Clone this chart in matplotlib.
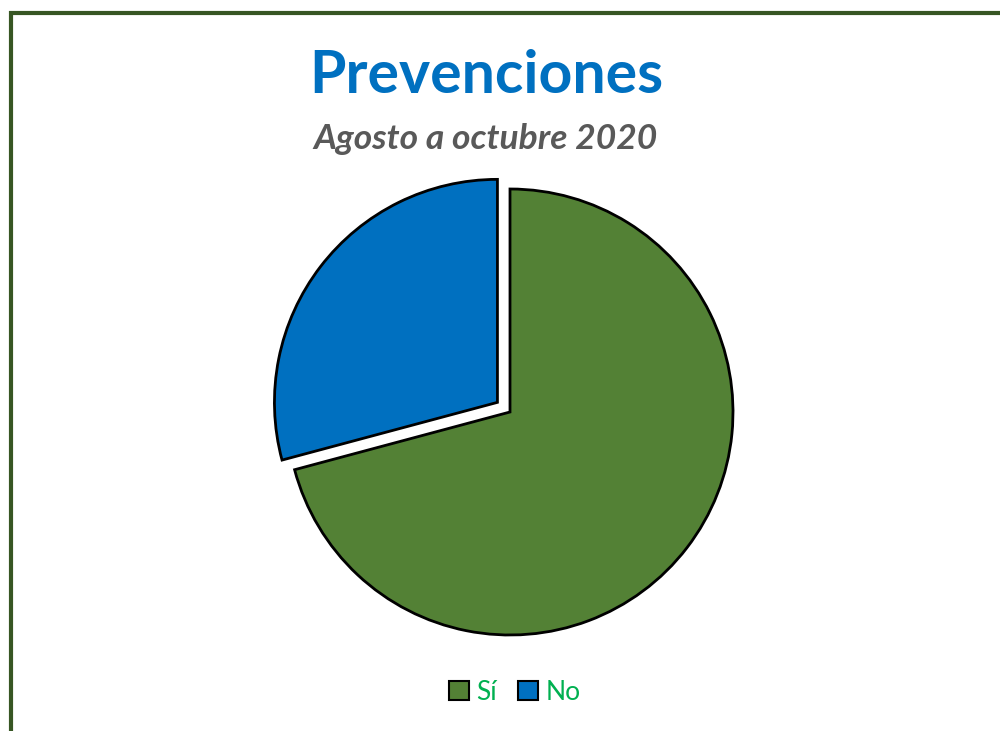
import matplotlib
matplotlib.use("Agg")
import matplotlib.pyplot as plt
from matplotlib.patches import Rectangle, Patch

categories = ["Sí", "No"]
values = [17, 7]
colors = ["#538135", "#0070C0"]
title = "Prevenciones"
subtitle = "Agosto a octubre 2020"

W, H = 1000, 731
fig = plt.figure(figsize=(W / 100, H / 100), dpi=100)
fig.patch.set_facecolor("white")

# pie axes: 1 data unit = R px, centre at (cx, cy) px from top-left
cx, cy, R = 510, 412, 223
ax = fig.add_axes([0, 0, 1, 1])
ax.axis("off")

ax.pie(values, colors=colors, startangle=90, counterclock=False,
       explode=[0, 0.071], radius=1,
       wedgeprops=dict(edgecolor="black", linewidth=2.0, joinstyle="miter"))
ax.set_xlim((0 - cx) / R, (W - cx) / R)
ax.set_ylim((cy - H) / R, cy / R)
ax.set_aspect("auto")

# border
fig.patches.append(Rectangle((10.5 / W, -0.2), 1.2, 1 - 12.5 / H + 0.2,
                             transform=fig.transFigure, fill=False,
                             edgecolor="#375623", linewidth=3.0, zorder=10))

fig.text(486 / W, 1 - 76 / H, title, ha="center", va="center",
         fontsize=42.5, fontweight="bold", color="#0070C0", family="Lato")
fig.text(486 / W, 1 - 139 / H, subtitle, ha="center", va="center",
         fontsize=25.5, fontweight="bold", style="italic", color="#595959",
         family="Lato")

handles = [Patch(facecolor=c, edgecolor="black", linewidth=1.5) for c in colors]
leg = fig.legend(handles, categories, loc="center", bbox_to_anchor=(515 / W, 1 - 692 / H),
                 ncol=2, frameon=False, handlelength=0.75, handleheight=0.75,
                 handletextpad=0.3, columnspacing=0.8,
                 prop=dict(family="Lato", size=19))
for t in leg.get_texts():
    t.set_color("#00B050")

fig.savefig("out.png", dpi=100, facecolor="white")
